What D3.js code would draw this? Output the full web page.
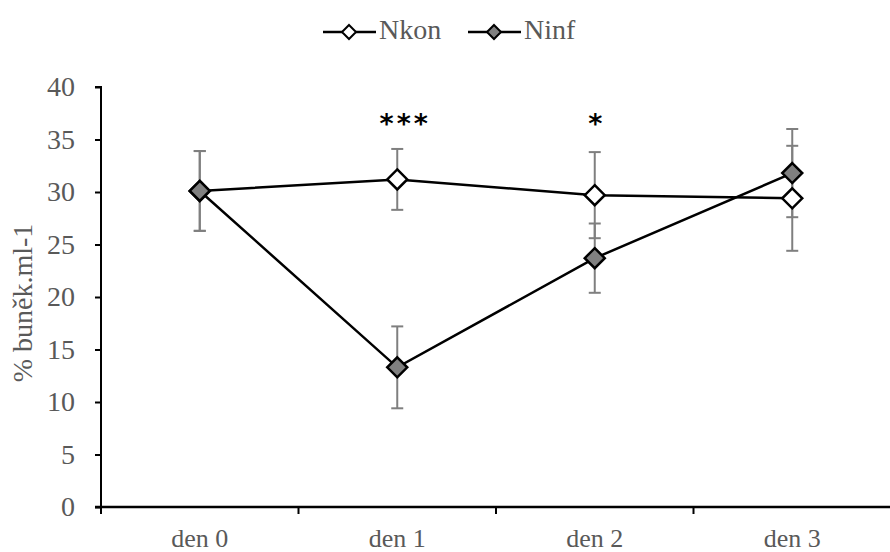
<!DOCTYPE html>
<html>
<head>
<meta charset="utf-8">
<script src="https://cdn.jsdelivr.net/npm/d3@7"></script>
<style>
  body { margin: 0; background: #fff; }
</style>
</head>
<body>
<div id="chart"></div>
<script>
const days = ["den 0", "den 1", "den 2", "den 3"];
const nkon = [30.1, 31.2, 29.7, 29.4];
const nkonErr = [3.8, 2.9, 4.1, 5.0];
const ninf = [30.1, 13.3, 23.7, 31.8];
const ninfErr = [3.8, 3.9, 3.3, 4.2];
const stars = ["", "***", "*", ""];
const yTicks = [0, 5, 10, 15, 20, 25, 30, 35, 40];

const W = 890, H = 552;
const margin = {left: 101, right: 0, top: 87, bottom: 45};
const serif = "'Liberation Serif', 'Times New Roman', serif";

const svg = d3.select("#chart").append("svg")
  .attr("width", W)
  .attr("height", H);

const x = d3.scaleBand()
  .domain(days)
  .range([margin.left, margin.left + 4 * 197.5]);

const y = d3.scaleLinear()
  .domain([0, 40])
  .range([H - margin.bottom, margin.top]);

// y axis
const yAxis = svg.append("g")
  .attr("transform", `translate(${margin.left},0)`)
  .call(d3.axisLeft(y).tickValues(yTicks).tickSize(6).tickPadding(20));
yAxis.select(".domain").attr("stroke", "#000").attr("stroke-width", 2)
  .attr("d", `M-6,${y(40)}H0V${y(0)}`);
yAxis.selectAll(".tick line").attr("stroke", "#000").attr("stroke-width", 2);
yAxis.selectAll(".tick text")
  .attr("fill", "#595959")
  .attr("font-family", serif)
  .attr("font-size", 28);

// x axis
const xAxis = svg.append("g")
  .attr("transform", `translate(0,${y(0)})`);
xAxis.append("line")
  .attr("x1", margin.left - 6).attr("x2", W)
  .attr("y1", 0).attr("y2", 0)
  .attr("stroke", "#000").attr("stroke-width", 2.5);
xAxis.selectAll(".xtick")
  .data(days)
  .enter().append("line")
  .attr("x1", (d) => x(d)).attr("x2", (d) => x(d))
  .attr("y1", 0).attr("y2", 7)
  .attr("stroke", "#000").attr("stroke-width", 2);
xAxis.selectAll(".xlabel")
  .data(days)
  .enter().append("text")
  .attr("x", (d) => x(d) + x.bandwidth() / 2)
  .attr("y", 40)
  .attr("text-anchor", "middle")
  .attr("fill", "#595959")
  .attr("font-family", serif)
  .attr("font-size", 26)
  .text((d) => d);

// y title
svg.append("text")
  .attr("transform", `translate(32,${(y(0) + y(40)) / 2 + 6}) rotate(-90)`)
  .attr("text-anchor", "middle")
  .attr("fill", "#595959")
  .attr("font-family", serif)
  .attr("font-size", 28)
  .text("% buněk.ml-1");

const cx = (d, i) => x(days[i]) + x.bandwidth() / 2;

const series = [
  {name: "Nkon", vals: nkon, err: nkonErr, fill: "#ffffff"},
  {name: "Ninf", vals: ninf, err: ninfErr, fill: "#808080"}
];

// error bars
series.forEach((s) => {
  const g = svg.append("g");
  s.vals.forEach((v, i) => {
    const xc = cx(v, i);
    g.append("line")
      .attr("x1", xc).attr("x2", xc)
      .attr("y1", y(v - s.err[i])).attr("y2", y(v + s.err[i]))
      .attr("stroke", "#7f7f7f").attr("stroke-width", 2);
    [v - s.err[i], v + s.err[i]].forEach((e) => {
      g.append("line")
        .attr("x1", xc - 6).attr("x2", xc + 6)
        .attr("y1", y(e)).attr("y2", y(e))
        .attr("stroke", "#7f7f7f").attr("stroke-width", 2);
    });
  });
});

const line = d3.line()
  .x((d, i) => cx(d, i))
  .y((d) => y(d));

const diamond = (r) => `M0,${-r}L${r},0L0,${r}L${-r},0Z`;

series.forEach((s) => {
  svg.append("path")
    .attr("d", line(s.vals))
    .attr("fill", "none")
    .attr("stroke", "#000")
    .attr("stroke-width", 2.5);
});

series.forEach((s) => {
  svg.selectAll(null)
    .data(s.vals)
    .enter().append("path")
    .attr("transform", (d, i) => `translate(${cx(d, i)},${y(d)})`)
    .attr("d", diamond(10))
    .attr("fill", s.fill)
    .attr("stroke", "#000")
    .attr("stroke-width", 2.5);
});

// significance stars
svg.selectAll(".star")
  .data(stars)
  .enter().append("text")
  .attr("x", (d, i) => x(days[i]) + x.bandwidth() / 2 + (d.length > 1 ? 8 : 2))
  .attr("y", 133)
  .attr("text-anchor", "middle")
  .attr("fill", "#000")
  .attr("font-family", "'DejaVu Sans', sans-serif")
  .attr("font-size", 27)
  .attr("font-weight", "bold")
  .attr("letter-spacing", 3)
  .text((d) => d);

// legend
const legendX = [323, 468];
series.forEach((s, i) => {
  const lg = svg.append("g").attr("transform", `translate(${legendX[i]},32)`);
  lg.append("line")
    .attr("x1", 0).attr("x2", 53)
    .attr("y1", 0).attr("y2", 0)
    .attr("stroke", "#000").attr("stroke-width", 2.5);
  lg.append("path")
    .attr("transform", "translate(26,0)")
    .attr("d", diamond(7))
    .attr("fill", s.fill)
    .attr("stroke", "#000")
    .attr("stroke-width", 2);
  lg.append("text")
    .attr("x", 56)
    .attr("y", 7)
    .attr("fill", "#595959")
    .attr("font-family", serif)
    .attr("font-size", 28)
    .text(s.name);
});
</script>
</body>
</html>
